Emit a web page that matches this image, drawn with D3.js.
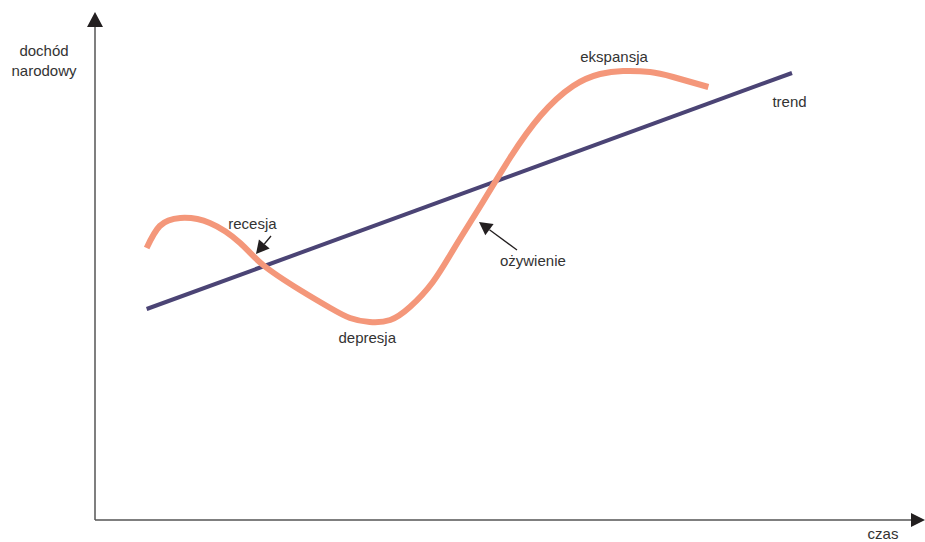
<!DOCTYPE html>
<html><head><meta charset="utf-8">
<script src="https://cdn.jsdelivr.net/npm/d3@7"></script>
<style>body{margin:0;background:#fff}svg{display:block}text{font-family:"Liberation Sans",Arial,sans-serif;font-size:15px;fill:#333}</style>
</head><body>
<script>
// cycle (time, income) points
const cycleT = [6.3,7.9,10.4,14.0,17.7,20.5,25.0,28.7,31.1,33.5,36.0,38.4,41.2,43.9,47.3,50.6,54.3,58.3,61.6,64.4,67.7,70.5,74.8];
const cycleY = [54.4,58.8,60.4,59.4,55.4,51.0,46.0,42.4,40.4,39.6,40.0,42.6,47.6,54.6,63.6,72.4,80.8,86.8,89.2,89.8,89.6,88.6,86.6];
const trendT = [6.3,85.0];
const trendY = [42.2,89.4];
const labels = ["recesja","depresja","ożywienie","ekspansja","trend"];
const labelT = [19.2,33.2,53.4,63.3,84.7];
const labelY = [58.2,35.4,50.8,91.6,82.6];

const W=925,H=542;
const x=d3.scaleLinear().domain([0,100]).range([95,915]);
const y=d3.scaleLinear().domain([0,100]).range([520,20]);
const svg=d3.select("body").append("svg").attr("width",W).attr("height",H);

// axes
svg.append("line").attr("x1",x(0)).attr("y1",y(0)).attr("x2",x(0)).attr("y2",26).attr("stroke","#555").attr("stroke-width",1.5);
svg.append("line").attr("x1",x(0)).attr("y1",y(0)).attr("x2",912).attr("y2",y(0)).attr("stroke","#555").attr("stroke-width",1.5);
svg.append("path").attr("d",`M${x(0)},12 L${x(0)-8},27 L${x(0)+8},27Z`).attr("fill","#231f20");
svg.append("path").attr("d",`M925,${y(0)} L911,${y(0)-7} L911,${y(0)+7}Z`).attr("fill","#231f20");

svg.append("text").attr("x",44).attr("y",56).attr("text-anchor","middle").text("dochód");
svg.append("text").attr("x",44).attr("y",76).attr("text-anchor","middle").text("narodowy");
svg.append("text").attr("x",883).attr("y",539).attr("text-anchor","middle").text("czas");

// trend
const line=d3.line().x(d=>x(d[0])).y(d=>y(d[1]));
svg.append("path").attr("d",line(trendT.map((t,i)=>[t,trendY[i]]))).attr("stroke","#4b4475").attr("stroke-width",4).attr("fill","none");
// cycle
const cl=d3.line().x(d=>x(d[0])).y(d=>y(d[1])).curve(d3.curveNatural);
svg.append("path").attr("d",cl(cycleT.map((t,i)=>[t,cycleY[i]]))).attr("stroke","#f4977a").attr("stroke-width",6).attr("fill","none");

// labels
labels.forEach((l,i)=>svg.append("text").attr("x",x(labelT[i])).attr("y",y(labelY[i])).attr("text-anchor","middle").text(l));

// pointer arrows
function arrow(x1,y1,x2,y2){
  const a=Math.atan2(y2-y1,x2-x1), L=13, w=7;
  const bx=x2-L*Math.cos(a), by=y2-L*Math.sin(a);
  svg.append("line").attr("x1",x1).attr("y1",y1).attr("x2",bx).attr("y2",by).attr("stroke","#231f20").attr("stroke-width",1.3);
  svg.append("path").attr("d",`M${x2},${y2} L${bx+w*Math.sin(a)},${by-w*Math.cos(a)} L${bx-w*Math.sin(a)},${by+w*Math.cos(a)}Z`).attr("fill","#231f20");
}
arrow(271,236,256,254);
arrow(517,250,479,222);
</script>
</body></html>
